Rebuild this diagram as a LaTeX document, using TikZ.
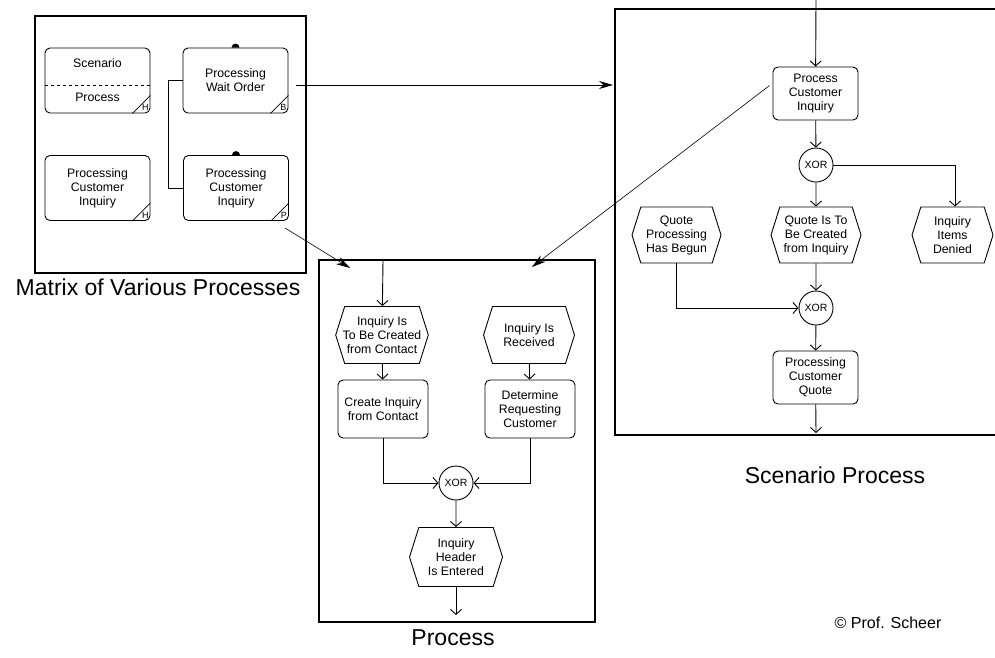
\documentclass[tikz,border=0pt]{standalone}
\usepackage{fontspec}
\setmainfont{Liberation Sans}
\usetikzlibrary{positioning,shapes.symbols,arrows.meta,calc}

\newcommand{\cornermark}[2]{%
  \draw[line width=0.7pt] ($(#1.south east)+(-18,0)$) -- ($(#1.south east)+(0,-18)$);
  \node[font=\fontsize{9}{9}\selectfont, inner sep=0pt] at ($(#1.south east)+(-5,-6)$) {#2};}

\begin{document}
\begin{tikzpicture}[x=1pt,y=-1pt]
    % Setup the styles for the boxes
        \tikzset{box font/.style={font=\fontsize{12.3}{14}\selectfont, align=center},
                 fn style/.style={box font, draw, rounded corners=5pt,
                                  line width=0.9pt,
                                  minimum width=85pt, minimum height=53pt,
                                  inner sep=1pt},
                 mx style/.style={fn style, minimum width=105pt,
                                  minimum height=65pt},
                 ev style/.style={box font, draw, signal,
                                  signal to=east and west,
                                  signal pointer angle=145,
                                  line width=0.9pt,
                                  minimum width=91pt, minimum height=57pt,
                                  inner xsep=-2pt, inner ysep=1pt},
                 xor style/.style={draw, circle, line width=0.9pt,
                                   minimum size=34pt, inner sep=0pt,
                                   font=\fontsize{10.5}{12}\selectfont},
                 flow/.style={line width=0.9pt,
                              -{Straight Barb[length=5pt,width=11pt]}},
                 link/.style={line width=0.9pt,
                              -{Stealth[length=14pt,width=8pt]}},
                 frame/.style={line width=1.2pt},
                 caption/.style={font=\fontsize{23}{27}\selectfont}}
        \useasboundingbox (0,0) rectangle (995,657);
        % Frames
        \draw[frame] (35,16) rectangle (306,273);
        \draw[frame] (319,260) rectangle (595,622);
        \draw[frame] (996,9) -- (615,9) -- (615,435) -- (996,435);
        % Matrix of processes
        \node[mx style] at (97.5, 80.5)  (scpr) {Scenario\\[20pt]Process};
        \node[mx style] at (235.5, 80.5) (pwo)  {Processing\\Wait Order};
        \node[mx style] at (97.5, 188)   (pcl)  {Processing\\Customer\\Inquiry};
        \node[mx style] at (236, 188)    (pcr)  {Processing\\Customer\\Inquiry};
        \draw[dashed, line width=0.7pt] ($(scpr.west)+(0,4.5)$) -- ($(scpr.east)+(0,4.5)$);
        \cornermark{scpr}{H}
        \cornermark{pwo}{B}
        \cornermark{pcl}{H}
        \cornermark{pcr}{P}
        \fill ($(pwo.north)+(-4,0)$) arc[start angle=180, end angle=360, radius=4];
        \fill ($(pcr.north)+(-4,0)$) arc[start angle=180, end angle=360, radius=4];
        \draw[line width=0.9pt] (pwo.west) -- ++(-14,0) |- (pcr.west);
        % Process
        \node[ev style] at (382, 335) (ev1) {Inquiry Is\\To Be Created\\from Contact};
        \node[ev style] at (529, 335) (ev2) {Inquiry Is\\Received};
        \node[fn style, minimum width=90pt, minimum height=58pt] at (383, 409) (fn1) {Create Inquiry\\from Contact};
        \node[fn style, minimum width=90pt, minimum height=58pt] at (530, 409) (fn2) {Determine\\Requesting\\Customer};
        \node[xor style] at (456, 483) (xor1) {XOR};
        \node[ev style, minimum width=93pt, minimum height=59pt] at (456, 557) (ev3) {Inquiry\\Header\\Is Entered};
        \coordinate (ptop) at (383, 260);
        \coordinate (pend) at (456, 615);
        % Scenario process
        \node[fn style] at (815.5, 93.5) (pci) {Process\\Customer\\Inquiry};
        \node[xor style] at (816, 165) (xor2) {XOR};
        \node[ev style, minimum width=89pt, minimum height=56pt] at (676.5, 235) (evq1) {Quote\\Processing\\Has Begun};
        \node[ev style, minimum width=90pt, minimum height=56pt] at (816, 235) (evq2) {Quote Is To\\Be Created\\from Inquiry};
        \node[ev style, minimum width=81pt, minimum height=56pt] at (952.5, 235) (evq3) {Inquiry\\Items\\Denied};
        \node[xor style] at (816, 308) (xor3) {XOR};
        \node[fn style] at (815.5, 377.5) (pcq) {Processing\\Customer\\Quote};
        \coordinate (stop) at (816, 0);
        \coordinate (send) at (816, 433);
        % Links between the views
        \coordinate (sin)  at (613, 85);
        \coordinate (pin1) at (350, 268);
        \coordinate (pin2) at (532, 267);
        \draw[link] ($(pwo.east)+(8,4.5)$) -- (sin);
        \draw[link, line width=0.6pt] ($(pcr.south east)+(-4,7)$) -- (pin1);
        \draw[link, line width=0.6pt] ($(pci.west)+(-3,-8)$) -- (pin2);
        % Connect the process steps
        \draw[flow] (ptop) -- (ev1);
        \draw[flow] (ev1) -- (fn1);
        \draw[flow] (ev2) -- (fn2);
        \draw[flow] (fn1.south) |- (xor1.west);
        \draw[flow] (fn2.south) |- (xor1.east);
        \draw[flow] (xor1) -- (ev3);
        \draw[flow] (ev3) -- (pend);
        \draw[flow] (stop) -- (pci);
        \draw[flow] (pci) -- (xor2);
        \draw[flow] (xor2) -- (evq2);
        \draw[flow] (xor2.east) -| ($(evq3.north)+(2.5,0)$);
        \draw[flow] (evq2) -- (xor3);
        \draw[flow] (evq1.south) |- (xor3.west);
        \draw[flow] (xor3) -- (pcq);
        \draw[flow] (pcq) -- (send);
        % Captions
        \node[caption] at (158, 287) (capm) {Matrix of Various Processes};
        \node[caption] at (453, 638) (capp) {Process};
        \node[caption] at (835, 475) (caps) {Scenario Process};
        \node[font=\fontsize{16}{18}\selectfont] at (888, 623) (copy) {\textcopyright\ Prof. Scheer};
\end{tikzpicture}
\end{document}
